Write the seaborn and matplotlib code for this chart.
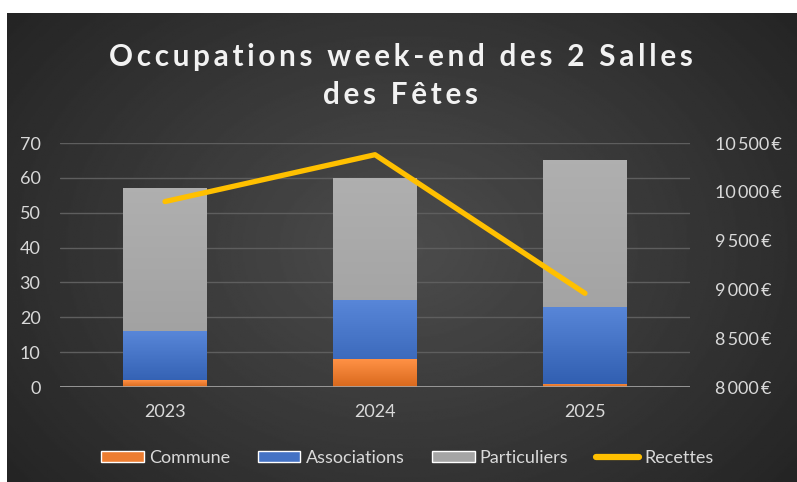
import numpy as np
import pandas as pd
import matplotlib
matplotlib.use("Agg")
import matplotlib.pyplot as plt
import matplotlib.ticker as mticker
from matplotlib.patches import Patch
from matplotlib.lines import Line2D
import seaborn as sns

# Données
annees = ["2023", "2024", "2025"]
commune = [2, 8, 1]
associations = [14, 17, 22]
particuliers = [41, 35, 42]
recettes = [9900, 10380, 8960]

C_COMMUNE = "#ED7D31"
C_ASSOC = "#4472C4"
C_PART = "#A5A5A5"
C_RECETTES = "#FFC000"
TXT = "#D9D9D9"

sns.set_theme(style="dark")
plt.rcParams["font.family"] = ["Lato", "DejaVu Sans"]

df = pd.DataFrame({"annee": annees, "Commune": commune,
                   "Associations": associations, "Particuliers": particuliers,
                   "Recettes": recettes})
df["bas"] = df["Commune"]
df["milieu"] = df["Commune"] + df["Associations"]
df["total"] = df["milieu"] + df["Particuliers"]

W, H = 797, 482
fig = plt.figure(figsize=(W / 100, H / 100), dpi=100, facecolor="white")

# fond sombre en dégradé radial
bg = fig.add_axes([7 / W, 0, 790 / W, 469 / H])
yy, xx = np.mgrid[-1:1:300j, -1:1:500j]
r = np.sqrt(xx ** 2 + (yy * 0.8) ** 2)
bg.imshow(0.30 - 0.16 * np.clip(r, 0, 1.3) / 1.3, cmap="gray", vmin=0, vmax=1,
          aspect="auto", extent=[0, 1, 0, 1])
bg.set_axis_off()

ax = fig.add_axes([60 / W, 95 / H, 630 / W, 244 / H])
ax.patch.set_alpha(0)

# barres empilées : on dessine les cumuls du plus grand au plus petit
couches = [("total", C_PART), ("milieu", C_ASSOC), ("bas", C_COMMUNE)]
for col, c in couches:
    sns.barplot(data=df, x="annee", y=col, color=c, width=0.4, ax=ax,
                saturation=1, zorder=2)


def degrade(hexc, clair=0.08, fonce=-0.08):
    rgb = np.array(matplotlib.colors.to_rgb(hexc))
    haut = np.clip(rgb + clair, 0, 1)
    bas = np.clip(rgb + fonce, 0, 1)
    t = np.linspace(0, 1, 64)[:, None]
    return (haut * (1 - t) + bas * t)[:, None, :]


for p in list(ax.patches):
    x0, y0 = p.get_x(), p.get_y()
    w, h = p.get_width(), p.get_height()
    fc = matplotlib.colors.to_hex(p.get_facecolor())
    if fc.upper() == C_PART:
        g = degrade(fc, 0.04, -0.03)
    else:
        g = degrade(fc)
    im = ax.imshow(g, extent=[x0, x0 + w, y0, y0 + h],
                   aspect="auto", zorder=2.5, interpolation="bilinear")
    im.set_clip_path(p)
    p.set_edgecolor("none")

ax.set_xlim(-0.5, 2.5)
ax.set_ylim(0, 70)
ax.yaxis.set_major_locator(mticker.MultipleLocator(10))
ax.grid(axis="y", color="#5E5E5E", linewidth=1, zorder=0)
ax.grid(axis="x", visible=False)
for s in ax.spines.values():
    s.set_visible(False)
ax.axhline(0, color="#A6A6A6", linewidth=1.2, zorder=3)
ax.set_xlabel("")
ax.set_ylabel("")
ax.tick_params(axis="both", colors=TXT, labelsize=13, length=0)
ax.tick_params(axis="y", pad=14)
ax.tick_params(axis="x", pad=12)

ax2 = ax.twinx()
sns.lineplot(data=df, x="annee", y="Recettes", color=C_RECETTES,
             linewidth=3.8, ax=ax2, solid_capstyle="round", zorder=5)
ax2.set_ylim(8000, 10500)
ax2.yaxis.set_major_locator(mticker.MultipleLocator(500))
ax2.yaxis.set_major_formatter(mticker.FuncFormatter(
    lambda v, _: f"{int(v):,}".replace(",", "\u2009") + "\u2009€"))
ax2.grid(False)
for s in ax2.spines.values():
    s.set_visible(False)
ax2.set_ylabel("")
ax2.tick_params(axis="y", colors=TXT, labelsize=13, length=0, pad=18)
ax2.patch.set_alpha(0)

titre = ["Occupations week-end des 2 Salles", "des Fêtes"]
titre_espace = "\n".join("\u200a\u200a".join(ligne) for ligne in titre)
fig.text(0.503, 0.843, titre_espace,
         ha="center", va="center", color="#F2F2F2", fontsize=21.3,
         fontweight="bold", linespacing=1.42)

handles = [Patch(facecolor=C_COMMUNE), Patch(facecolor=C_ASSOC),
           Patch(facecolor=C_PART),
           Line2D([], [], color=C_RECETTES, linewidth=4.5, solid_capstyle="round")]
labels = ["Commune", "Associations", "Particuliers", "Recettes"]
leg = fig.legend(handles, labels, loc="center", bbox_to_anchor=(0.511, 0.05),
                 ncol=4, frameon=False, fontsize=13, handlelength=2.35,
                 handleheight=0.55, handletextpad=0.28, columnspacing=1.55)
for t in leg.get_texts():
    t.set_color(TXT)

fig.savefig("out.png", dpi=100, facecolor="white")
